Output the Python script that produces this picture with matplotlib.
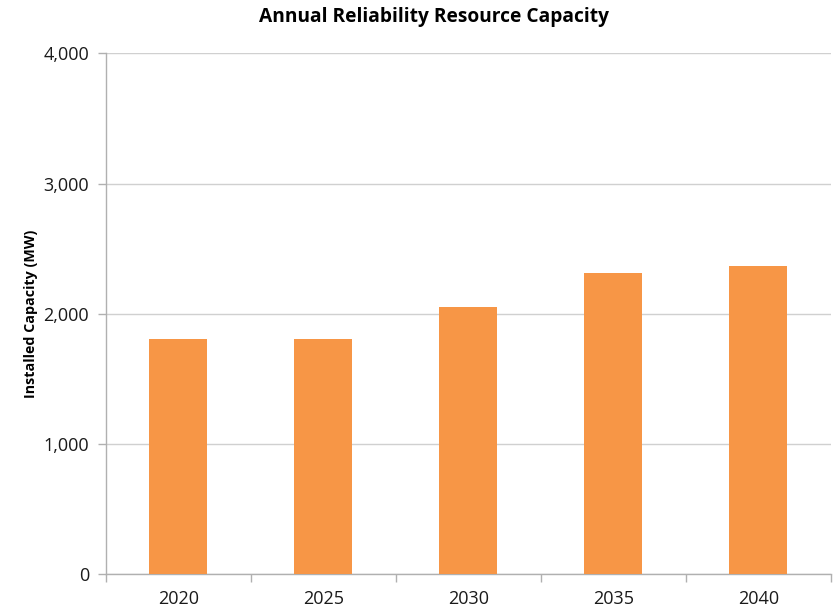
import matplotlib.pyplot as plt
from matplotlib.ticker import FuncFormatter, FixedLocator
import numpy as np

# Data
years = ['2020', '2025', '2030', '2035', '2040']
capacity_mw = [1805, 1805, 2055, 2310, 2367]

plt.rcParams['font.family'] = ['Open Sans', 'DejaVu Sans']

fig = plt.figure(figsize=(8.33, 6.10), dpi=100)
ax = fig.add_axes([0.127, 0.0585, 0.8706, 0.854])

x = np.arange(len(years))
ax.bar(x, capacity_mw, width=0.4, color='#F79646', zorder=3)

ax.set_xlim(-0.5, len(years) - 0.5)
ax.set_ylim(0, 4000)
ax.set_yticks([0, 1000, 2000, 3000, 4000])
ax.yaxis.set_major_formatter(FuncFormatter(lambda v, p: f'{int(v):,}'))
ax.grid(axis='y', color='#D0D0D0', linewidth=1, zorder=0)

# category labels centred, tick marks between categories
ax.set_xticks(x)
ax.set_xticklabels(years)
ax.xaxis.set_minor_locator(FixedLocator(np.arange(-0.5, len(years), 1.0)))
ax.tick_params(axis='x', which='major', length=0, pad=11, labelsize=13, colors='#1a1a1a')
ax.tick_params(axis='x', which='minor', length=6, color='#B0B0B0', width=1)
ax.tick_params(axis='y', length=6, color='#B0B0B0', width=1, pad=6, labelsize=13, labelcolor='#1a1a1a')

for s in ['top', 'right']:
    ax.spines[s].set_visible(False)
for s in ['left', 'bottom']:
    ax.spines[s].set_color('#B0B0B0')
    ax.spines[s].set_linewidth(1)

ax.set_ylabel('Installed Capacity (MW)', fontsize=10.3, fontweight='bold', labelpad=4)
fig.suptitle('Annual Reliability Resource Capacity', fontsize=13.8, fontweight='bold',
             x=0.521, y=0.988)

plt.savefig('out.png', dpi=100)
